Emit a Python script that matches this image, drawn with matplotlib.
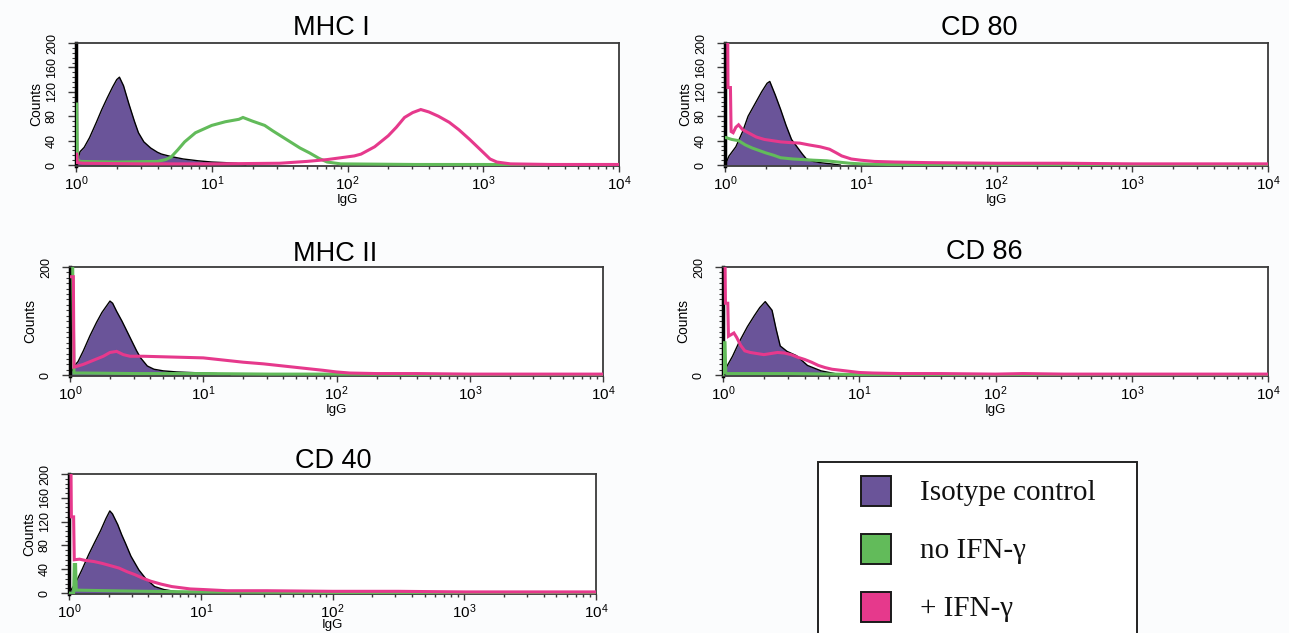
import numpy as np
import matplotlib
matplotlib.use("Agg")
import matplotlib.pyplot as plt
from matplotlib.ticker import FixedLocator, MultipleLocator, LogLocator, NullFormatter, FixedFormatter
from matplotlib.patches import Rectangle

plt.rcParams['font.family'] = ['Liberation Sans', 'DejaVu Sans']
plt.rcParams['mathtext.default'] = 'regular'

W, H = 1289, 633

# ---------------- text / categories ----------------
TITLES = ["MHC I", "CD 80", "MHC II", "CD 86", "CD 40"]
X_TICKS = [1, 10, 100, 1000, 10000]
X_TICK_LABELS = ["$10^{0}$", "$10^{1}$", "$10^{2}$", "$10^{3}$", "$10^{4}$"]
X_LABEL = "IgG"
Y_LABEL = "Counts"
Y_TICKS_FULL = [0, 40, 80, 120, 160, 200]
Y_TICKS_SPARSE = [0, 200]
LEGEND_LABELS = ["Isotype control", "no IFN-γ", "+ IFN-γ"]

# ---------------- data (x as log10 of IgG, y = counts) ----------------
# MHC I
MHC1_ISO_LX = [0.0, 0.03, 0.06, 0.1, 0.15, 0.19, 0.23, 0.27, 0.3, 0.32, 0.35, 0.39, 0.43, 0.46, 0.5, 0.55, 0.6, 0.63, 0.7, 0.79, 0.9, 1.0, 1.1, 1.18, 1.25]
MHC1_ISO_Y = [0, 22, 29, 45, 70, 91, 110, 128, 140, 144, 130, 100, 72, 53, 38, 28, 21, 18, 14, 10, 7, 5, 4, 3, 0]
MHC1_NO_LX = [0.0, 0.005, 0.01, 0.03, 0.3, 0.6, 0.66, 0.7, 0.75, 0.8, 0.88, 0.95, 1.0, 1.1, 1.2, 1.23, 1.3, 1.39, 1.45, 1.55, 1.65, 1.72, 1.79, 1.85, 1.95, 2.5, 3.0, 4.0]
MHC1_NO_Y = [100, 100, 10, 6, 5, 6, 9, 13, 25, 38, 53, 60, 65, 71, 75, 78, 72, 65, 56, 42, 28, 20, 11, 5, 2, 1, 1, 0]
MHC1_IFN_LX = [0.0, 0.005, 0.01, 0.05, 0.5, 1.0, 1.5, 1.7, 1.85, 1.95, 2.05, 2.1, 2.2, 2.3, 2.36, 2.42, 2.48, 2.54, 2.6, 2.67, 2.75, 2.82, 2.9, 2.98, 3.05, 3.1, 3.2, 3.5, 4.0]
MHC1_IFN_Y = [18, 18, 4, 3, 2, 2, 3, 6, 9, 12, 15, 18, 30, 48, 62, 78, 86, 91, 87, 80, 70, 58, 42, 25, 10, 5, 2, 1, 1]

# CD 80
CD80_ISO_LX = [0.0, 0.03, 0.08, 0.13, 0.17, 0.22, 0.27, 0.31, 0.33, 0.37, 0.41, 0.45, 0.49, 0.53, 0.57, 0.6, 0.65, 0.7, 0.78, 0.85]
CD80_ISO_Y = [0, 15, 30, 55, 80, 100, 120, 134, 137, 115, 91, 65, 42, 30, 18, 10, 6, 4, 2, 0]
CD80_NO_LX = [0.0, 0.01, 0.02, 0.05, 0.1, 0.15, 0.2, 0.25, 0.3, 0.36, 0.41, 0.5, 0.58, 0.65, 0.75, 0.83, 0.92, 1.0, 1.2, 1.5, 2.0, 3.0, 4.0]
CD80_NO_Y = [45, 45, 44, 42, 40, 33, 28, 24, 20, 16, 12, 10, 9, 8, 7, 5, 3, 2, 1, 1, 1, 1, 0]
CD80_IFN_LX = [0.0, 0.02, 0.022, 0.04, 0.045, 0.06, 0.08, 0.1, 0.13, 0.18, 0.23, 0.29, 0.35, 0.41, 0.47, 0.55, 0.62, 0.7, 0.77, 0.82, 0.86, 0.93, 1.0, 1.1, 1.25, 1.5, 2.0, 2.5, 3.0, 3.5, 4.0]
CD80_IFN_Y = [210, 210, 127, 127, 55, 53, 62, 66, 58, 52, 46, 42, 40, 38, 37, 36, 33, 30, 26, 20, 15, 10, 8, 6, 5, 4, 3, 3, 2, 2, 2]

# MHC II
MHC2_ISO_LX = [0.0, 0.035, 0.06, 0.1, 0.15, 0.2, 0.24, 0.28, 0.3, 0.32, 0.35, 0.39, 0.42, 0.46, 0.5, 0.53, 0.58, 0.63, 0.7, 0.8, 0.9, 1.0, 1.1, 1.2]
MHC2_ISO_Y = [0, 18, 25, 45, 73, 98, 116, 130, 137, 133, 118, 100, 85, 65, 45, 32, 17, 11, 8, 6, 5, 4, 3, 0]
MHC2_NO_LX = [0.0, 0.02, 0.03, 0.1, 0.5, 1.0, 1.5, 2.0, 3.0, 4.0]
MHC2_NO_Y = [205, 205, 4, 4, 3, 3, 2, 2, 1, 1]
MHC2_IFN_LX = [0.0, 0.025, 0.03, 0.06, 0.1, 0.15, 0.2, 0.25, 0.3, 0.35, 0.4, 0.45, 0.55, 0.7, 0.85, 1.0, 1.15, 1.3, 1.45, 1.6, 1.75, 1.9, 2.0, 2.1, 2.3, 2.6, 3.0, 3.5, 4.0]
MHC2_IFN_Y = [182, 182, 15, 17, 20, 25, 30, 35, 42, 44, 38, 35, 35, 34, 33, 32, 28, 24, 21, 17, 13, 9, 6, 4, 3, 3, 2, 2, 2]

# CD 86
CD86_ISO_LX = [0.0, 0.03, 0.07, 0.12, 0.18, 0.23, 0.27, 0.31, 0.36, 0.39, 0.42, 0.47, 0.54, 0.62, 0.72, 0.8, 0.88]
CD86_ISO_Y = [0, 17, 35, 62, 90, 110, 125, 136, 120, 85, 54, 44, 36, 18, 8, 4, 0]
CD86_NO_LX = [0.0, 0.01, 0.015, 0.02, 0.03, 0.2, 0.5, 0.8, 1.0, 2.0, 4.0]
CD86_NO_Y = [0, 60, 60, 5, 3, 3, 3, 2, 1, 1, 0]
CD86_IFN_LX = [0.0, 0.015, 0.018, 0.035, 0.04, 0.06, 0.08, 0.1, 0.13, 0.16, 0.2, 0.25, 0.3, 0.35, 0.4, 0.45, 0.5, 0.55, 0.6, 0.65, 0.7, 0.75, 0.8, 0.9, 1.0, 1.1, 1.3, 1.6, 2.0, 2.2, 2.5, 3.0, 3.5, 4.0]
CD86_IFN_Y = [210, 210, 133, 133, 72, 75, 78, 70, 55, 45, 42, 40, 38, 40, 42, 41, 38, 33, 29, 24, 18, 14, 11, 8, 5, 4, 3, 3, 2, 3, 2, 2, 2, 2]

# CD 40
CD40_ISO_LX = [0.0, 0.05, 0.1, 0.15, 0.19, 0.24, 0.28, 0.31, 0.33, 0.37, 0.4, 0.43, 0.47, 0.53, 0.58, 0.65, 0.72, 0.8, 0.9]
CD40_ISO_Y = [0, 17, 40, 65, 83, 105, 125, 138, 133, 115, 98, 83, 62, 39, 25, 11, 6, 3, 0]
CD40_NO_LX = [0.0, 0.035, 0.04, 0.05, 0.055, 0.3, 0.6, 1.0, 2.0, 3.0, 4.0]
CD40_NO_Y = [0, 0, 48, 48, 5, 4, 3, 2, 1, 1, 0]
CD40_IFN_LX = [0.0, 0.015, 0.018, 0.035, 0.04, 0.08, 0.12, 0.19, 0.25, 0.3, 0.38, 0.44, 0.5, 0.56, 0.62, 0.7, 0.78, 0.85, 0.92, 1.02, 1.2, 1.5, 2.0, 2.5, 3.0, 3.5, 4.0]
CD40_IFN_Y = [210, 210, 128, 128, 56, 57, 55, 53, 50, 47, 42, 36, 31, 25, 20, 15, 11, 9, 7, 6, 4, 4, 3, 3, 2, 2, 2]

# ---------------- styling / layout ----------------
PURPLE = "#6a5499"
GREEN = "#62bb5a"
MAGENTA = "#e6398c"
SPINE = "#3a3a3a"
BG = "#fbfcfd"

# axes boxes in pixels: left, top, right, bottom
AX_BOXES = [(76, 43, 619, 166), (725, 43, 1268, 166),
            (70, 267, 603, 376), (723, 267, 1268, 376),
            (69, 474, 596, 594)]
TITLE_POS = [(331, 35), (979, 35), (335, 261), (984, 259), (333, 468)]
FULL_Y = [True, True, False, False, True]
XLABEL_PAD = [0.5, 0.5, 0.5, 0.5, -1.5]

SERIES = [
    (MHC1_ISO_LX, MHC1_ISO_Y, MHC1_NO_LX, MHC1_NO_Y, MHC1_IFN_LX, MHC1_IFN_Y),
    (CD80_ISO_LX, CD80_ISO_Y, CD80_NO_LX, CD80_NO_Y, CD80_IFN_LX, CD80_IFN_Y),
    (MHC2_ISO_LX, MHC2_ISO_Y, MHC2_NO_LX, MHC2_NO_Y, MHC2_IFN_LX, MHC2_IFN_Y),
    (CD86_ISO_LX, CD86_ISO_Y, CD86_NO_LX, CD86_NO_Y, CD86_IFN_LX, CD86_IFN_Y),
    (CD40_ISO_LX, CD40_ISO_Y, CD40_NO_LX, CD40_NO_Y, CD40_IFN_LX, CD40_IFN_Y),
]


def px_rect(l, t, r, b):
    return [l / W, 1 - b / H, (r - l) / W, (b - t) / H]


fig = plt.figure(figsize=(W / 100, H / 100), dpi=100)
fig.patch.set_facecolor(BG)

for i, (box, ser) in enumerate(zip(AX_BOXES, SERIES)):
    ax = fig.add_axes(px_rect(*box))
    ax.set_facecolor("white")
    ilx, iy, nlx, ny, mlx, my = ser
    xi = 10 ** np.asarray(ilx)
    ax.fill_between(xi, 0, iy, color=PURPLE, lw=0, zorder=1)
    ax.plot(xi, iy, color="black", lw=1.0, zorder=2)
    ax.plot(10 ** np.asarray(nlx), ny, color=GREEN, lw=2.2, zorder=3,
            solid_joinstyle="miter")
    ax.plot(10 ** np.asarray(mlx), my, color=MAGENTA, lw=2.2, zorder=4,
            solid_joinstyle="miter")
    ax.set_xscale("log")
    ax.set_xlim(1, 1e4)
    ax.set_ylim(-1.5, 200)

    ax.xaxis.set_major_locator(FixedLocator(X_TICKS))
    ax.xaxis.set_major_formatter(FixedFormatter(X_TICK_LABELS))
    ax.xaxis.set_minor_locator(LogLocator(base=10, subs=np.arange(2, 10)))
    ax.xaxis.set_minor_formatter(NullFormatter())
    ax.tick_params(axis="x", which="major", direction="out", length=4, width=1,
                   labelsize=11, pad=2, color=SPINE)
    ax.tick_params(axis="x", which="minor", direction="out", length=2.5, width=1,
                   color=SPINE)
    ax.set_xlabel(X_LABEL, fontsize=9.5, labelpad=XLABEL_PAD[i])

    if FULL_Y[i]:
        ax.yaxis.set_major_locator(FixedLocator(Y_TICKS_FULL))
        ax.yaxis.set_minor_locator(MultipleLocator(8))
    else:
        ax.yaxis.set_major_locator(FixedLocator(Y_TICKS_SPARSE))
        ax.yaxis.set_minor_locator(MultipleLocator(10))
    ax.tick_params(axis="y", which="major", direction="out", length=6, width=1,
                   labelsize=9, pad=7, labelrotation=90, color=SPINE)
    ax.tick_params(axis="y", which="minor", direction="out", length=3, width=0.8,
                   color=SPINE)
    for lab in ax.get_yticklabels():
        lab.set_va("center")
    ax.set_ylabel(Y_LABEL, fontsize=10, labelpad=2)

    for side in ("top", "right", "bottom"):
        ax.spines[side].set_color(SPINE)
        ax.spines[side].set_linewidth(1.3)
    ax.spines["left"].set_color("black")
    ax.spines["left"].set_linewidth(2.5)

# overlay for titles and legend (pixel coordinates)
ov = fig.add_axes([0, 0, 1, 1], facecolor="none")
ov.set_xlim(0, W)
ov.set_ylim(H, 0)
ov.axis("off")

for t, (x, y) in zip(TITLES, TITLE_POS):
    ov.text(x, y, t, fontsize=19.5, ha="center", va="baseline", color="black")

# legend box (open at the bottom, cropped by figure edge)
ov.add_patch(Rectangle((818, 462), 319, 200, fill=True, facecolor="white",
                       edgecolor="#222222", lw=1.4, clip_on=False))
LEG_COLORS = [PURPLE, GREEN, MAGENTA]
LEG_Y = [491, 549, 607]
for lab, col, yc in zip(LEGEND_LABELS, LEG_COLORS, LEG_Y):
    ov.add_patch(Rectangle((861, yc - 15), 30, 30, facecolor=col,
                           edgecolor="#1a1a1a", lw=1.4))
    ov.text(920, yc + 2, lab, fontsize=21, family=["Liberation Serif", "DejaVu Serif"],
            ha="left", va="center", color="#111111")

fig.savefig("out.png", dpi=100, facecolor=fig.get_facecolor())
